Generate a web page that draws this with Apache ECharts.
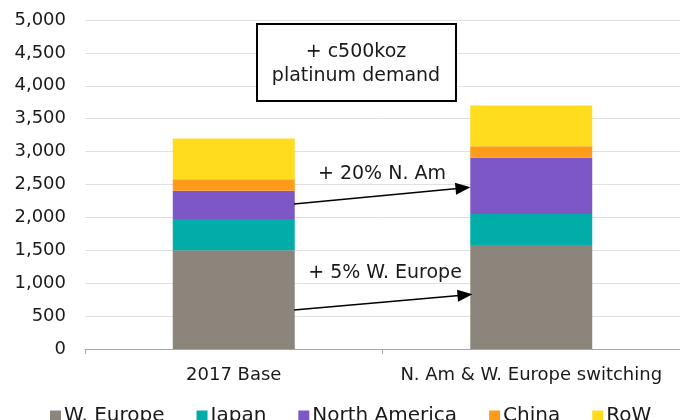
<!DOCTYPE html>
<html>
<head>
<meta charset="utf-8">
<script src="https://cdn.jsdelivr.net/npm/echarts@6/dist/echarts.min.js"></script>
<style>
  html, body { margin: 0; padding: 0; background: #fff; }
  #chart { width: 680px; height: 420px; }
</style>
</head>
<body>
<div id="chart"></div>
<script>
// 数据
const categories = ['2017 Base', 'N. Am & W. Europe switching'];
const wEurope = [1500, 1580];
const japan = [475, 470];
const northAmerica = [430, 855];
const china = [175, 175];
const rest = [620, 620];
const yTicks = { min: 0, max: 5000, interval: 500 };

const font = 'DejaVu Sans';
const chart = echarts.init(document.getElementById('chart'));

function bar(name, data, color) {
  return {
    name: name,
    type: 'bar',
    stack: 'total',
    barWidth: '41%',
    data: data,
    itemStyle: { color: color },
    emphasis: { disabled: true }
  };
}

const series = [
  bar('W. Europe', wEurope, '#8c857b'),
  bar('Japan', japan, '#00ada9'),
  bar('North America', northAmerica, '#7e57c6'),
  bar('China', china, '#ff9b1a'),
  bar('RoW', rest, '#ffdd1e')
];

// 箭头
series[4].markLine = {
  silent: true,
  symbol: ['none', 'triangle'],
  symbolSize: [12, 15],
  label: { show: false },
  lineStyle: { color: '#000', width: 1.5, type: 'solid' },
  data: [
    [{ x: 294, y: 204 }, { x: 463, y: 188 }],
    [{ x: 294, y: 310 }, { x: 465, y: 295 }]
  ]
};

function label(text, x, y) {
  return {
    type: 'text', x: x, y: y, z: 100,
    style: { text: text, fontSize: 19, fontFamily: font, fill: '#1a1a1a', align: 'center', verticalAlign: 'middle' }
  };
}

chart.setOption({
  animation: false,
  textStyle: { fontFamily: font },
  grid: { left: 85, right: -5, top: 20, bottom: 71 },
  xAxis: {
    type: 'category',
    data: categories,
    axisLine: { lineStyle: { color: '#a6a6a6', width: 1 } },
    axisTick: { show: true, alignWithLabel: false, length: 5, lineStyle: { color: '#a6a6a6' } },
    axisLabel: { color: '#1a1a1a', fontSize: 18, margin: 17, interval: 0, fontFamily: font }
  },
  yAxis: {
    type: 'value',
    min: yTicks.min,
    max: yTicks.max,
    interval: yTicks.interval,
    axisLine: { show: false },
    axisTick: { show: false },
    splitLine: { lineStyle: { color: '#e0e0e0' } },
    axisLabel: {
      color: '#1a1a1a', fontSize: 18, margin: 19, fontFamily: font,
      formatter: v => v.toLocaleString('en-US')
    }
  },
  legend: {
    left: 45,
    top: 401,
    icon: 'rect',
    itemWidth: 11,
    itemHeight: 11,
    itemGap: 32,
    textStyle: { color: '#1a1a1a', fontSize: 20, fontFamily: font, padding: [0, 0, 0, -2] }
  },
  graphic: [
    {
      type: 'rect', z: 99,
      shape: { x: 257, y: 24, width: 199, height: 77 },
      style: { fill: '#fff', stroke: '#000', lineWidth: 2 }
    },
    label('+ c500koz', 356, 52),
    label('platinum demand', 356, 76),
    label('+ 20% N. Am', 382, 174),
    label('+ 5% W. Europe', 385, 273)
  ],
  series: series
});
</script>
</body>
</html>
